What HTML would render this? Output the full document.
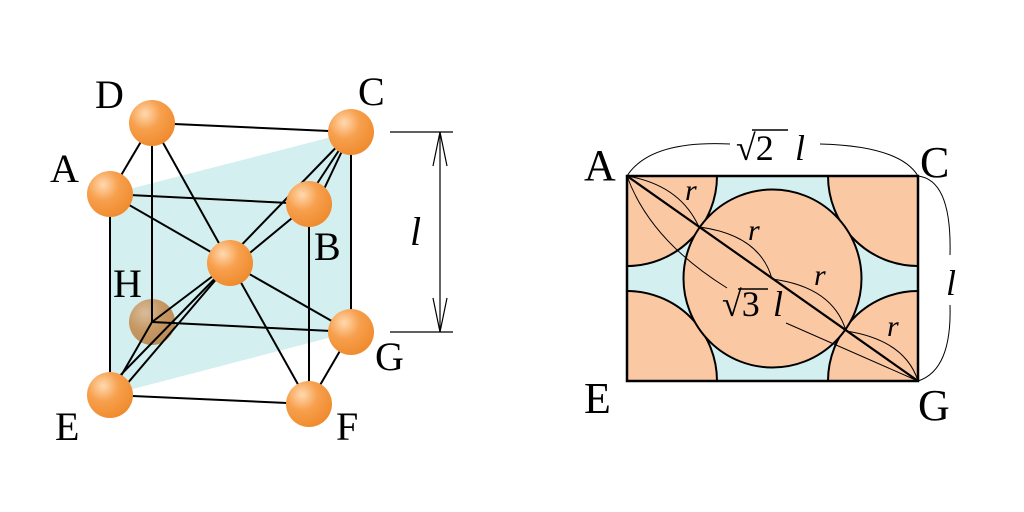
<!DOCTYPE html>
<html><head><meta charset="utf-8"><style>
html,body{margin:0;padding:0;background:#fff;width:1024px;height:512px;overflow:hidden}
text{font-family:"Liberation Serif",serif}
</style></head><body>
<svg width="1024" height="512" viewBox="0 0 1024 512" xmlns="http://www.w3.org/2000/svg">
<defs>
<radialGradient id="s" cx="0.35" cy="0.3" r="0.75">
<stop offset="0" stop-color="#ffd9b0"/><stop offset="0.45" stop-color="#f7a04e"/><stop offset="1" stop-color="#ef8a2c"/></radialGradient>
<radialGradient id="h" cx="0.35" cy="0.3" r="0.75">
<stop offset="0" stop-color="#d9b48c"/><stop offset="0.5" stop-color="#c48a4c"/><stop offset="1" stop-color="#b57a3c"/></radialGradient>
<clipPath id="rc"><rect x="627" y="176" width="291" height="205"/></clipPath>
</defs>
<polygon points="110,194 351,132 351,332 110,395" fill="#d3efef"/>
<circle cx="152" cy="322" r="23" fill="url(#h)" opacity="0.85"/>
<g stroke="#000" stroke-width="2" fill="none">
<line x1="152" y1="123" x2="351" y2="132"/>
<line x1="152" y1="123" x2="110" y2="194"/>
<line x1="152" y1="123" x2="152" y2="322"/>
<line x1="152" y1="123" x2="230" y2="263"/>
<line x1="110" y1="194" x2="309" y2="204"/>
<line x1="110" y1="194" x2="230" y2="263"/>
<line x1="110" y1="194" x2="110" y2="395"/>
<line x1="351" y1="132" x2="305" y2="202"/>
<line x1="351" y1="132" x2="316" y2="206"/>
<line x1="351" y1="132" x2="351" y2="332"/>
<line x1="309" y1="204" x2="309" y2="404"/>
<line x1="351" y1="132" x2="226" y2="261"/>
<line x1="309" y1="204" x2="234" y2="266"/>
<line x1="230" y1="263" x2="104" y2="392"/>
<line x1="230" y1="263" x2="115" y2="398"/>
<line x1="230" y1="263" x2="152" y2="322"/>
<line x1="230" y1="263" x2="351" y2="332"/>
<line x1="230" y1="263" x2="309" y2="404"/>
<line x1="152" y1="322" x2="351" y2="332"/>
<line x1="152" y1="322" x2="110" y2="395"/>
<line x1="110" y1="395" x2="309" y2="404"/>
<line x1="351" y1="332" x2="309" y2="404"/>
</g>
<g fill="url(#s)">
<circle cx="152" cy="123" r="23"/><circle cx="351" cy="132" r="23"/>
<circle cx="110" cy="194" r="23"/><circle cx="309" cy="204" r="23"/>
<circle cx="230" cy="263" r="23"/><circle cx="351" cy="332" r="23"/>
<circle cx="110" cy="395" r="23"/><circle cx="309" cy="404" r="23"/>
</g>
<g stroke="#000" stroke-width="1.2" fill="none">
<line x1="390" y1="132" x2="453" y2="132"/><line x1="390" y1="332" x2="453" y2="332"/>
<line x1="440" y1="132" x2="440" y2="332"/>
<polyline points="433,166 440,132 447,166"/><polyline points="433,298 440,332 447,298"/>
</g>
<g font-size="40">
<text x="95" y="108">D</text><text x="358" y="105">C</text>
<text x="50" y="182">A</text><text x="314" y="260">B</text>
<text x="113" y="297">H</text><text x="375" y="370">G</text>
<text x="55" y="440">E</text><text x="336" y="440">F</text>
<text x="410" y="245" font-style="italic">l</text>
</g>
<rect x="627" y="176" width="291" height="205" fill="#d3efef"/>
<g clip-path="url(#rc)" fill="#fbc8a4" stroke="#000" stroke-width="2">
<circle cx="627" cy="176" r="90"/><circle cx="918" cy="176" r="90"/>
<circle cx="627" cy="381" r="90"/><circle cx="918" cy="381" r="90"/>
<circle cx="772.5" cy="278.5" r="89"/>
</g>
<rect x="627" y="176" width="291" height="205" fill="none" stroke="#000" stroke-width="2.5"/>
<g stroke="#000" fill="none">
<line x1="627" y1="176" x2="918" y2="381" stroke-width="2.2"/>
<g stroke-width="1">
<path d="M627,176 Q680,185 699,227"/>
<path d="M699,227 Q760,235 772,279"/>
<path d="M772,279 Q833,287 846,331"/>
<path d="M846,331 Q905,340 918,381"/>
<path d="M627,176 Q650,240 727,288"/>
<path d="M786,323 Q870,360 918,381"/>
<path d="M627,176 Q650,140 730,144"/>
<path d="M820,144 Q900,146 918,176"/>
<path d="M918,176 Q952,180 950,255"/>
<path d="M950,305 Q952,370 918,381"/>
</g>
<g stroke-width="1.5">
<line x1="752" y1="130" x2="788" y2="130"/>
<line x1="738" y1="289" x2="768" y2="289"/>
</g>
</g>
<g font-size="44">
<text x="584" y="180">A</text><text x="920" y="177">C</text>
<text x="584" y="413">E</text><text x="918" y="420">G</text>
</g>
<g font-size="36">
<text x="736" y="160">√2</text><text x="795" y="160" font-style="italic">l</text>
<text x="946" y="295" font-style="italic">l</text>
<text x="722" y="316">√3</text><text x="773" y="316" font-style="italic">l</text>
</g>
<g font-size="30" font-style="italic">
<text x="685" y="200">r</text><text x="748" y="240">r</text>
<text x="814" y="285">r</text><text x="887" y="336">r</text>
</g>
</svg>
</body></html>
